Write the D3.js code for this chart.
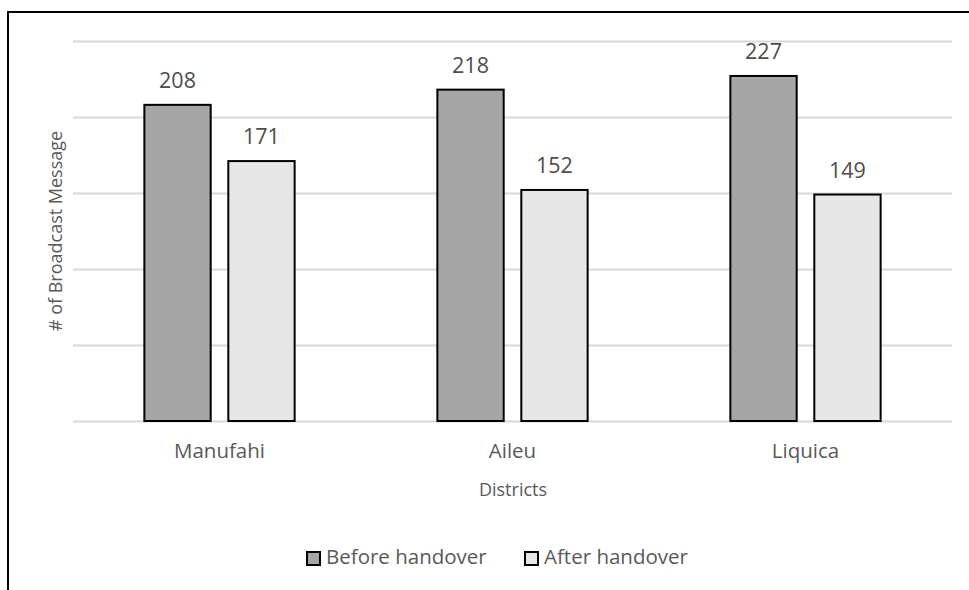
<!DOCTYPE html>
<html>
<head>
<meta charset="utf-8">
<script src="https://cdn.jsdelivr.net/npm/d3@7"></script>
<style>
  body { margin: 0; background: #fff; }
  svg { display: block; font-family: "Open Sans", sans-serif; }
</style>
</head>
<body>
<svg width="969" height="590"></svg>
<script>
var districts = ["Manufahi", "Aileu", "Liquica"],
    seriesNames = ["Before handover", "After handover"],
    beforeValues = [208, 218, 227],
    afterValues = [171, 152, 149],
    gridTicks = [0, 50, 100, 150, 200, 250],
    colors = ["#a6a6a6", "#e7e7e7"];

var svg = d3.select("svg"),
    margin = {top: 41, right: 17, bottom: 169, left: 73},
    width = 969 - margin.left - margin.right,
    height = 590 - margin.top - margin.bottom;

// outer frame (runs past the right/bottom of the picture)
svg.append("rect")
    .attr("x", 8).attr("y", 12)
    .attr("width", 1000).attr("height", 700)
    .attr("fill", "none")
    .attr("stroke", "#000")
    .attr("stroke-width", 2);

var g = svg.append("g").attr("transform", "translate(" + margin.left + "," + margin.top + ")");

var data = districts.map(function (d, i) {
  return {district: d, values: [beforeValues[i], afterValues[i]]};
});

var x0 = d3.scaleBand().domain(districts).range([0, width]).padding(0);
var x1 = d3.scaleBand().domain(seriesNames).range([0, x0.bandwidth()])
    .paddingInner(0.21).paddingOuter(0.85);
var y = d3.scaleLinear().domain([0, 250]).range([height, 0]);

// gridlines
g.append("g")
    .attr("class", "grid")
    .call(d3.axisLeft(y).tickValues(gridTicks).tickSize(-width).tickFormat(""))
    .call(function (s) {
      s.select(".domain").remove();
      s.selectAll("line").attr("stroke", "#d9d9d9").attr("stroke-width", 2);
    });

// category labels
g.append("g")
    .attr("transform", "translate(0," + height + ")")
    .call(d3.axisBottom(x0).tickSize(0).tickPadding(22))
    .call(function (s) {
      s.select(".domain").remove();
      s.selectAll("text")
        .attr("font-family", "Open Sans, sans-serif")
        .attr("font-size", 20.5)
        .attr("fill", "#595959");
    });

var group = g.selectAll(".group")
  .data(data)
  .enter().append("g")
    .attr("class", "group")
    .attr("transform", function (d) { return "translate(" + x0(d.district) + ",0)"; });

var bar = group.selectAll(".bar")
  .data(function (d) { return d.values.map(function (v, i) { return {s: seriesNames[i], i: i, v: v}; }); })
  .enter();

bar.append("rect")
    .attr("x", function (d) { return x1(d.s); })
    .attr("y", function (d) { return y(d.v); })
    .attr("width", x1.bandwidth())
    .attr("height", function (d) { return height - y(d.v); })
    .attr("fill", function (d) { return colors[d.i]; })
    .attr("stroke", "#000")
    .attr("stroke-width", 2);

bar.append("text")
    .attr("x", function (d) { return x1(d.s) + x1.bandwidth() / 2; })
    .attr("y", function (d) { return y(d.v) - 17; })
    .attr("text-anchor", "middle")
    .attr("font-size", 21.5)
    .attr("fill", "#4d4d4d")
    .text(function (d) { return d.v; });

// axis titles
svg.append("text")
    .attr("x", 513).attr("y", 496)
    .attr("text-anchor", "middle")
    .attr("font-size", 18)
    .attr("fill", "#595959")
    .text("Districts");

svg.append("text")
    .attr("transform", "translate(62,231) rotate(-90)")
    .attr("text-anchor", "middle")
    .attr("font-size", 18)
    .attr("fill", "#595959")
    .text("# of Broadcast Message");

// legend
var legendX = [306, 524];
var legend = svg.selectAll(".legend")
  .data(seriesNames)
  .enter().append("g")
    .attr("class", "legend")
    .attr("transform", function (d, i) { return "translate(" + legendX[i] + ",551)"; });

legend.append("rect")
    .attr("x", 1).attr("y", 1)
    .attr("width", 13).attr("height", 13)
    .attr("fill", function (d, i) { return colors[i]; })
    .attr("stroke", "#000")
    .attr("stroke-width", 2);

legend.append("text")
    .attr("x", 20).attr("y", 13)
    .attr("font-size", 20.5)
    .attr("fill", "#595959")
    .text(function (d) { return d; });
</script>
</body>
</html>
